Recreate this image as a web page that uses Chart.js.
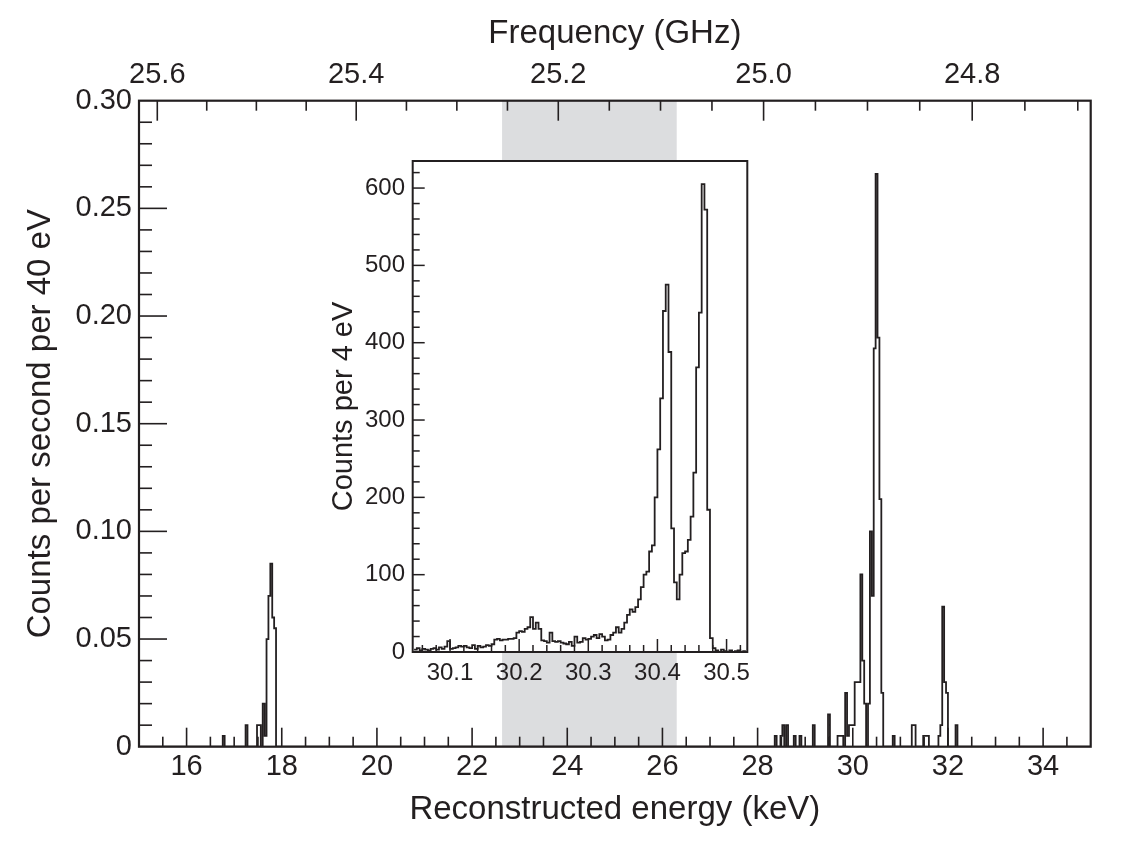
<!DOCTYPE html>
<html>
<head>
<meta charset="utf-8">
<title>Reconstructed energy spectrum</title>
<script src="https://cdn.jsdelivr.net/npm/chart.js@4.4.1/dist/chart.umd.min.js"></script>
<style>
  html, body { margin: 0; padding: 0; background: #fff; }
  #wrap { position: relative; width: 1124px; height: 850px; }
  #mainChart { position: absolute; left: 0; top: 0; }
  #insetChart { position: absolute; left: 300px; top: 150px; }
</style>
</head>
<body>
<div id="wrap">
  <canvas id="mainChart" width="1124" height="850"></canvas>
  <canvas id="insetChart" width="460" height="545"></canvas>
</div>
<script>
// main spectrum: 40 eV bins, only the non-empty ones are listed
const energyMin = 15;
const energyMax = 35;
const mainBinWidth = 0.04;
const mainBinStart = [
  16.76, 17.24, 17.48, 17.52, 17.60, 17.64, 17.68, 17.72, 17.76, 17.80, 17.84,
  28.36, 28.48, 28.52, 28.60, 28.76, 28.88, 29.16, 29.48, 29.68, 29.72, 29.76,
  29.84, 29.88, 29.92, 29.96, 30.00, 30.04, 30.08, 30.12, 30.16, 30.20, 30.24,
  30.32, 30.36, 30.40, 30.44, 30.48, 30.52, 30.56, 30.60, 30.84,
  31.24, 31.28, 31.48, 31.52, 31.56, 31.80, 31.84, 31.88, 31.92, 31.96, 32.16
];
const mainRate = [
  0.005, 0.01, 0.01, 0.01, 0.02, 0.005, 0.05, 0.07, 0.085, 0.06, 0.055,
  0.005, 0.005, 0.01, 0.01, 0.005, 0.005, 0.01, 0.015, 0.005, 0.005, 0.005,
  0.025, 0.005, 0.01, 0.01, 0.01, 0.03, 0.03, 0.03, 0.08, 0.04, 0.02,
  0.02, 0.10, 0.07, 0.185, 0.266, 0.19, 0.115, 0.025, 0.005,
  0.01, 0.01, 0.005, 0.005, 0.005, 0.005, 0.01, 0.065, 0.03, 0.025, 0.01
];
const shadedBand = [22.63, 26.3];

// axis labels
const energyLabels = [16, 18, 20, 22, 24, 26, 28, 30, 32, 34];
const rateLabels = [0, 0.05, 0.10, 0.15, 0.20, 0.25, 0.30];
const freqLabels = [25.6, 25.4, 25.2, 25.0, 24.8];

// inset: 4 eV bins from 30.048 keV
const insetStart = 30.048;
const insetBinWidth = 0.004;
const insetCounts = [
  3, 5, 2, 4, 3, 2, 4, 5, 3, 6, 4, 7,
  14, 4, 5, 6, 8, 7, 8, 6, 5, 9, 4, 8, 6, 7, 9, 8, 10, 16,
  17, 15, 16, 16, 17, 17, 18, 25, 27, 26, 30, 32, 45, 30, 38, 30,
  15, 14, 12, 25, 14, 13, 14, 12, 11, 10, 13, 8, 20, 12,
  13, 18, 16, 17, 20, 22, 18, 23, 20, 15, 16, 22, 25, 32, 25, 30, 38,
  48, 55, 52, 58, 68, 84, 100, 104, 130, 138, 200, 262, 328, 441, 475, 388,
  160, 90, 68, 100, 128, 130, 145, 175, 232, 368, 439, 605, 572, 184, 18,
  5, 2, 0, 3, 1, 0, 2, 0, 1, 2, 0, 1
];
const insetLabelsX = [30.1, 30.2, 30.3, 30.4, 30.5];
const insetLabelsY = [0, 100, 200, 300, 400, 500, 600];

const ink = "#231f20";
Chart.defaults.font.family = "'Liberation Sans', Arial, sans-serif";
Chart.defaults.color = ink;

// cyclotron frequency <-> energy (fit to the top axis)
const f0 = 26.364;
const restMass = 515.5;
function freqToKeV(f) {
  return restMass * (f0 / f - 1);
}

// full histogram table for the main chart
const mainBins = [];
const nMain = Math.round((energyMax - energyMin) / mainBinWidth);
for (let k = 0; k < nMain; k++) mainBins.push(0);
mainBinStart.forEach((e, i) => {
  mainBins[Math.round((e - energyMin) / mainBinWidth)] = mainRate[i];
});
const mainPoints = mainBins.map((v, k) => ({ x: energyMin + k * mainBinWidth, y: v }));
mainPoints.push({ x: energyMax, y: 0 });

const insetPoints = insetCounts.map((v, i) => ({ x: insetStart + i * insetBinWidth, y: v }));
insetPoints.push({ x: insetStart + insetCounts.length * insetBinWidth, y: insetCounts[insetCounts.length - 1] });

// tick mark positions (minor + major)
function steps(from, to, step) {
  const out = [];
  const n = Math.round((to - from) / step);
  for (let i = 0; i <= n; i++) out.push(+(from + i * step).toFixed(4));
  return out;
}
const energyMarks = steps(15.5, 34.5, 0.5);
const rateMarks = steps(0.01, 0.29, 0.01);
const freqMarks = steps(24.7, 25.6, 0.05);
const insetMarksX = steps(30.06, 30.52, 0.02);
const insetMarksY = steps(20, 620, 20);

function isMultiple(v, m) {
  const r = Math.abs(v / m - Math.round(v / m));
  return r < 1e-6;
}

function line(ctx, x1, y1, x2, y2) {
  ctx.beginPath();
  ctx.moveTo(x1, y1);
  ctx.lineTo(x2, y2);
  ctx.stroke();
}

// keep the plot box where the axis sizes put it
function noPad(s) {
  s.paddingTop = 0;
  s.paddingBottom = 0;
  s.paddingLeft = 0;
  s.paddingRight = 0;
}

const mainFrame = {
  id: "mainFrame",
  beforeDatasetsDraw(chart) {
    const { ctx, chartArea: a, scales } = chart;
    const x1 = scales.x.getPixelForValue(shadedBand[0]);
    const x2 = scales.x.getPixelForValue(shadedBand[1]);
    ctx.save();
    ctx.fillStyle = "#dcdddf";
    ctx.fillRect(x1, a.top, x2 - x1, a.bottom - a.top);
    ctx.restore();
  },
  afterDraw(chart) {
    const { ctx, chartArea: a, scales } = chart;
    ctx.save();
    ctx.strokeStyle = ink;
    ctx.lineWidth = 1.6;
    energyMarks.forEach((v) => {
      const x = scales.x.getPixelForValue(v);
      const len = isMultiple(v, 2) ? 19 : 10;
      line(ctx, x, a.bottom, x, a.bottom - len);
    });
    rateMarks.forEach((v) => {
      const y = scales.y.getPixelForValue(v);
      const len = isMultiple(v, 0.05) ? 28 : 13;
      line(ctx, a.left, y, a.left + len, y);
    });
    freqMarks.forEach((f) => {
      const x = scales.xTop.getPixelForValue(freqToKeV(f));
      if (x < a.left || x > a.right) return;
      const len = isMultiple(f, 0.2) ? 20 : 10;
      line(ctx, x, a.top, x, a.top + len);
    });
    ctx.lineWidth = 2.2;
    ctx.strokeRect(a.left, a.top, a.right - a.left, a.bottom - a.top);
    ctx.restore();
  },
};

const insetFrame = {
  id: "insetFrame",
  beforeDraw(chart) {
    const { ctx, chartArea: a } = chart;
    ctx.save();
    ctx.fillStyle = "#fff";
    ctx.fillRect(a.left, a.top, a.right - a.left, a.bottom - a.top);
    ctx.restore();
  },
  afterDraw(chart) {
    const { ctx, chartArea: a, scales } = chart;
    ctx.save();
    ctx.strokeStyle = ink;
    ctx.lineWidth = 1.5;
    insetMarksX.forEach((v) => {
      const x = scales.x.getPixelForValue(v);
      const len = isMultiple(v, 0.1) ? 13 : 7;
      line(ctx, x, a.bottom, x, a.bottom - len);
    });
    insetMarksY.forEach((v) => {
      const y = scales.y.getPixelForValue(v);
      if (y < a.top) return;
      const len = isMultiple(v, 100) ? 12 : 7;
      line(ctx, a.left, y, a.left + len, y);
    });
    ctx.lineWidth = 2;
    ctx.strokeRect(a.left, a.top, a.right - a.left, a.bottom - a.top);
    ctx.restore();
  },
};

const tickFont = { size: 29 };
const titleFont = { size: 33 };
const noGrid = { display: false, drawTicks: false };

const chart = new Chart("mainChart", {
  type: "line",
  data: {
    datasets: [
      {
        label: "Rate",
        data: mainPoints,
        stepped: "before",
        borderColor: ink,
        borderWidth: 1.8,
        pointRadius: 0,
        fill: false,
      },
    ],
  },
  options: {
    responsive: false,
    animation: false,
    devicePixelRatio: 1,
    events: [],
    layout: { padding: { top: 0, right: 33.3, bottom: 0, left: 0 } },
    plugins: { legend: { display: false }, tooltip: { enabled: false } },
    scales: {
      x: {
        type: "linear",
        position: "bottom",
        min: energyMin,
        max: energyMax,
        bounds: "data",
        grid: noGrid,
        border: { display: false },
        afterBuildTicks: (s) => {
          s.ticks = energyLabels.map((v) => ({ value: v }));
        },
        afterFit: (s) => {
          s.height = 850 - 746.7;
          noPad(s);
        },
        ticks: { autoSkip: false, maxRotation: 0, padding: 3, font: tickFont, callback: (v) => String(v) },
        title: {
          display: true,
          text: "Reconstructed energy (keV)",
          font: titleFont,
          padding: { top: 0, bottom: 20 },
        },
      },
      xTop: {
        type: "linear",
        position: "top",
        min: energyMin,
        max: energyMax,
        bounds: "data",
        grid: noGrid,
        border: { display: false },
        afterBuildTicks: (s) => {
          s.ticks = freqLabels.map((f) => ({ value: freqToKeV(f) }));
        },
        afterFit: (s) => {
          s.height = 100.7;
          noPad(s);
        },
        ticks: {
          autoSkip: false,
          maxRotation: 0,
          padding: 8.5,
          font: tickFont,
          callback: (v, i) => freqLabels[i].toFixed(1),
        },
        title: {
          display: true,
          text: "Frequency (GHz)",
          font: titleFont,
          padding: { top: 14, bottom: 0 },
        },
      },
      y: {
        min: 0,
        max: 0.3,
        bounds: "data",
        grid: noGrid,
        border: { display: false },
        afterBuildTicks: (s) => {
          s.ticks = rateLabels.map((v) => ({ value: v }));
        },
        afterFit: (s) => {
          s.width = 139;
          noPad(s);
        },
        ticks: {
          autoSkip: false,
          padding: 7,
          font: tickFont,
          callback: (v) => (v === 0 ? "0" : v.toFixed(2)),
        },
        title: {
          display: true,
          text: "Counts per second per 40 eV",
          font: titleFont,
          padding: { top: 21, bottom: 0 },
        },
      },
    },
  },
  plugins: [mainFrame],
});

const inset = new Chart("insetChart", {
  type: "line",
  data: {
    datasets: [
      {
        label: "Counts",
        data: insetPoints,
        stepped: "before",
        borderColor: ink,
        borderWidth: 1.8,
        pointRadius: 0,
        fill: false,
      },
    ],
  },
  options: {
    responsive: false,
    animation: false,
    devicePixelRatio: 1,
    events: [],
    layout: { padding: { top: 11, right: 12.7, bottom: 0, left: 0 } },
    plugins: { legend: { display: false }, tooltip: { enabled: false } },
    scales: {
      x: {
        type: "linear",
        min: 30.046,
        max: 30.53,
        bounds: "data",
        grid: noGrid,
        border: { display: false },
        afterBuildTicks: (s) => {
          s.ticks = insetLabelsX.map((v) => ({ value: v }));
        },
        afterFit: (s) => {
          s.height = 43;
          noPad(s);
        },
        ticks: { autoSkip: false, maxRotation: 0, padding: 6.9, font: { size: 24 }, callback: (v) => v.toFixed(1) },
      },
      y: {
        min: 0,
        max: 635,
        bounds: "data",
        grid: noGrid,
        border: { display: false },
        afterBuildTicks: (s) => {
          s.ticks = insetLabelsY.map((v) => ({ value: v }));
        },
        afterFit: (s) => {
          s.width = 112.7;
          noPad(s);
        },
        ticks: { autoSkip: false, padding: 7.7, font: { size: 24 }, callback: (v) => String(v) },
        title: {
          display: true,
          text: "Counts per 4 eV",
          font: { size: 29 },
          padding: { top: 27, bottom: 0 },
        },
      },
    },
  },
  plugins: [insetFrame],
});
</script>
</body>
</html>
